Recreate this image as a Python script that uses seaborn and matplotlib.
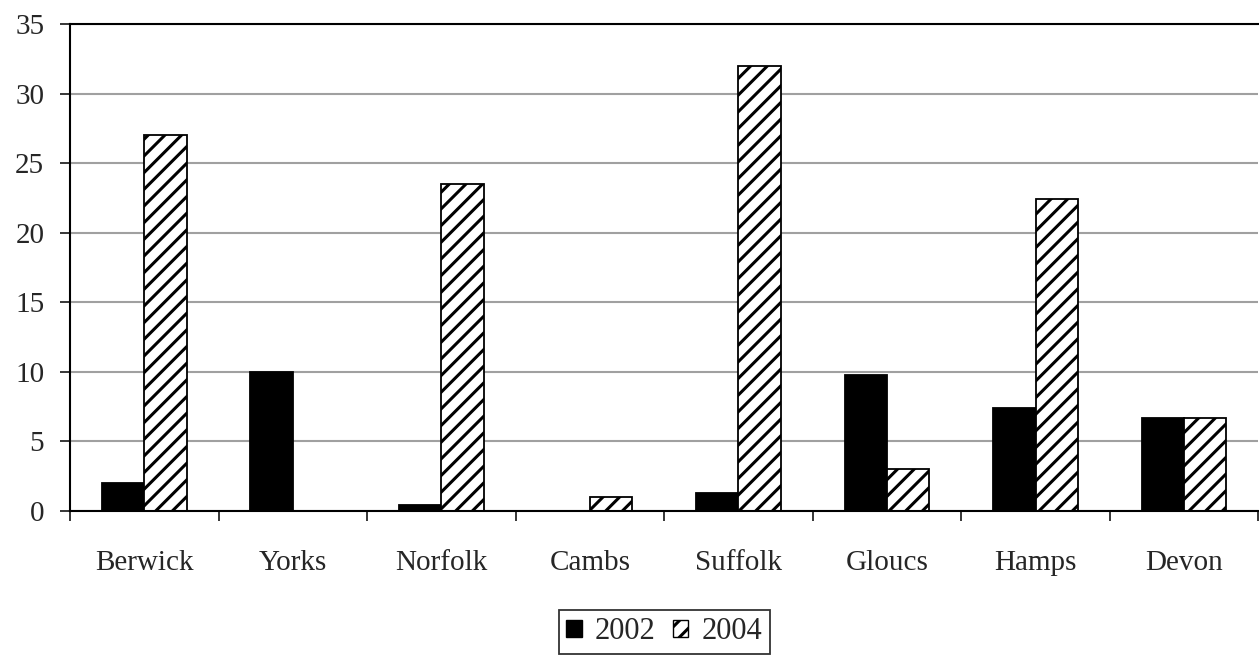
import matplotlib
matplotlib.use("Agg")
import matplotlib.pyplot as plt
from matplotlib.patches import Patch
import seaborn as sns
import pandas as pd
import numpy as np

# Counties and the two survey years
counties = ["Berwick", "Yorks", "Norfolk", "Cambs", "Suffolk", "Gloucs", "Hamps", "Devon"]
values_2002 = [2.0, 10.0, 0.4, 0.0, 1.3, 9.8, 7.4, 6.7]
values_2004 = [27.0, 0.0, 23.5, 1.0, 32.0, 3.0, 22.4, 6.7]
years = ["2002", "2004"]
y_ticks = [0, 5, 10, 15, 20, 25, 30, 35]

df = pd.DataFrame({
    "county": counties * 2,
    "value": values_2002 + values_2004,
    "year": [years[0]] * len(counties) + [years[1]] * len(counties),
})

sns.set_style("white")
plt.rcParams["font.family"] = ["Liberation Serif", "DejaVu Serif"]
plt.rcParams["hatch.linewidth"] = 2.2
plt.rcParams["hatch.color"] = "black"

FS = 21

fig = plt.figure(figsize=(12.59, 6.56), dpi=100)
ax = fig.add_axes([70 / 1259, 1 - 511 / 656, 1 - 70 / 1259 - 0.0005, (511 - 24) / 656])

sns.barplot(
    data=df, x="county", y="value", hue="year", order=counties, hue_order=years,
    palette={"2002": "black", "2004": "white"}, width=0.57, gap=0,
    edgecolor="black", linewidth=1.3, saturation=1, legend=False, ax=ax,
)

# Diagonal hatching on the 2004 bars
for bar in ax.containers[1]:
    bar.set_hatch("//")
    bar.set_edgecolor("black")

ax.set_ylim(0, 35)
ax.set_xlim(-0.5, len(counties) - 0.5)
ax.set_yticks(y_ticks)
ax.set_yticklabels([str(t) for t in y_ticks], fontsize=FS)
ax.tick_params(axis="y", direction="out", length=7.5, width=1.3, pad=11, left=True)

# Category boundaries carry the ticks; names sit at centres
ax.set_xticks(np.arange(-0.5, len(counties), 1.0))
ax.set_xticklabels([])
ax.set_xticks(np.arange(len(counties)), minor=True)
ax.set_xticklabels(counties, minor=True, fontsize=FS)
ax.tick_params(axis="x", which="major", direction="out", length=7.5, width=1.3, bottom=True)
ax.tick_params(axis="x", which="minor", length=0, pad=28)

ax.set_xlabel("")
ax.set_ylabel("")

ax.yaxis.grid(True, color="#a0a0a0", linewidth=1.5)
ax.set_axisbelow(True)
for side in ["left", "bottom", "top"]:
    ax.spines[side].set_visible(True)
    ax.spines[side].set_color("black")
    ax.spines[side].set_linewidth(1.5)
ax.spines["right"].set_visible(False)

handles = [
    Patch(facecolor="black", edgecolor="black", label=years[0]),
    Patch(facecolor="white", edgecolor="black", hatch="//", label=years[1]),
]
leg = ax.legend(
    handles=handles, loc="center", bbox_to_anchor=(0.5, -0.248), ncol=2,
    fontsize=22, frameon=True, fancybox=False, handlelength=0.52, handleheight=0.52,
    handletextpad=0.42, columnspacing=0.55, borderpad=0.25, borderaxespad=0,
)
leg.get_frame().set_edgecolor("black")
leg.get_frame().set_linewidth(1.3)

fig.savefig("out.png", dpi=100, facecolor="white")
